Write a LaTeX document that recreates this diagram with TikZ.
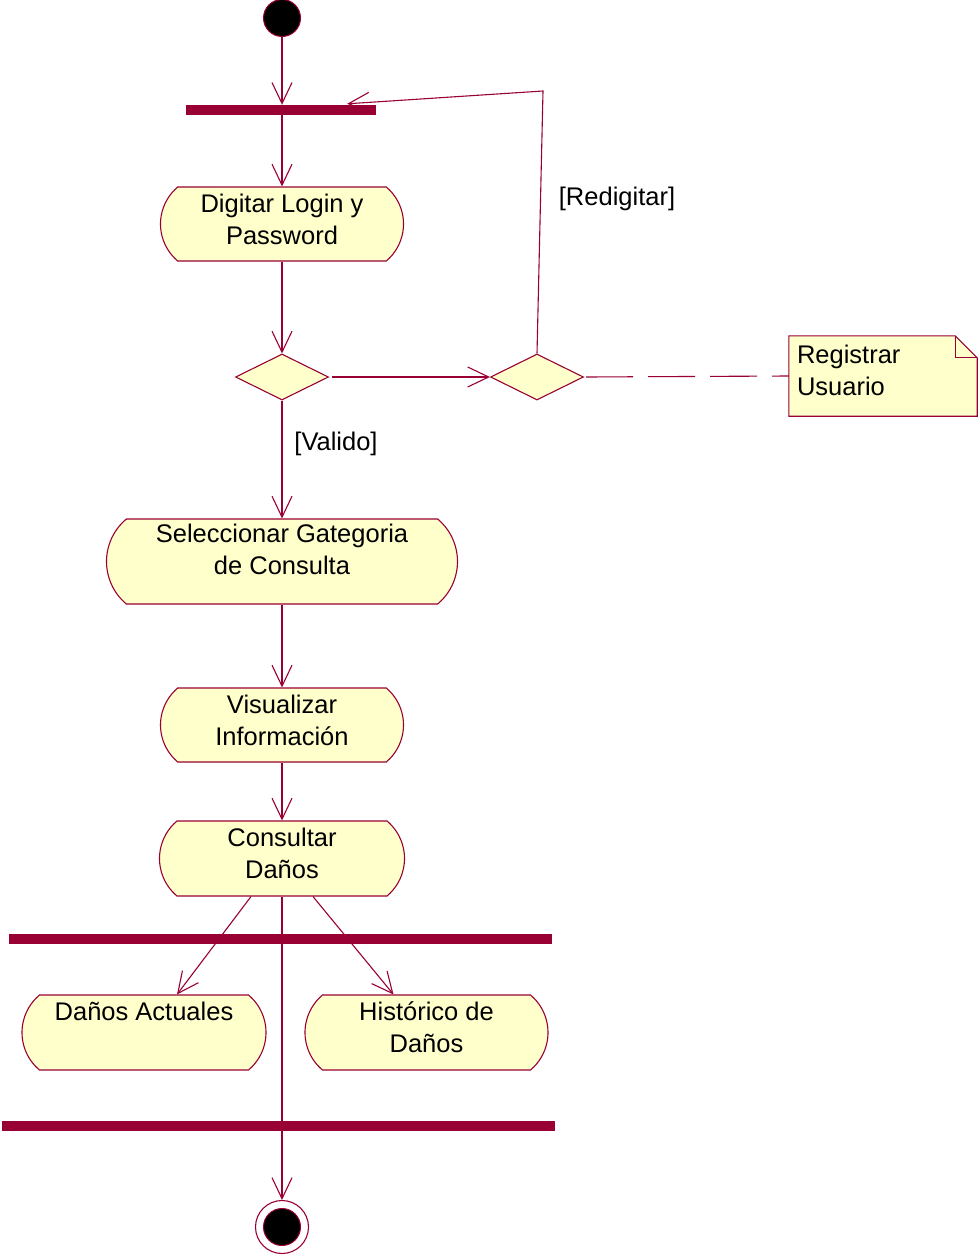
\documentclass[tikz,border=0pt]{standalone}
\usepackage{fontspec}
\setmainfont{Liberation Sans}
\usetikzlibrary{arrows.meta,shapes.misc,shapes.geometric,calc}
\definecolor{umlline}{HTML}{990033}
\definecolor{umlfill}{HTML}{FFFFCC}
\begin{document}
\begin{tikzpicture}[x=1pt,y=-1pt,
  every node/.style={font=\fontsize{25.5}{32}\selectfont},
  plain/.style={draw=umlline, line width=1.1pt},
  flow/.style={plain, -{Straight Barb[length=21pt,width=20pt]}},
  activity/.style={rounded rectangle, rounded rectangle arc length=100,
    draw=umlline, fill=umlfill, line width=1.1pt, inner sep=0pt, align=center,
    text depth=10pt},
  syncbar/.style={rectangle, fill=umlline, inner sep=0pt, minimum height=10pt},
  decision/.style={diamond, aspect=2, draw=umlline, fill=umlfill, line width=1.1pt,
    inner sep=0pt, minimum width=93pt, minimum height=46pt},
  guard/.style={inner sep=0pt}
]
\useasboundingbox (0,0) rectangle (978,1255);

% initial state and first synchronisation bar
\node[circle, draw=umlline, fill=black, line width=1pt, minimum size=37pt, inner sep=0pt] (start) at (282,18) {};
\node[syncbar, minimum width=190pt] (bar1) at (281,110) {};

% activities of the main column
\node[activity, minimum width=243pt, minimum height=74pt] (login) at (282,224) {Digitar Login y\\Password};
\node[decision] (d1) at (282,377) {};
\node[decision] (d2) at (537,377) {};
\node[activity, minimum width=351pt, minimum height=85pt, text depth=24pt] (sel) at (282,561.5) {Seleccionar Gategoria\\de Consulta};
\node[activity, minimum width=243pt, minimum height=74pt] (vis) at (282,725) {Visualizar\\Información};
\node[activity, minimum width=245pt, minimum height=75pt] (cons) at (282,858.5) {Consultar\\Daños};

% fork / join
\node[syncbar, minimum width=543pt] (bar2) at (280.5,939) {};
\node[activity, minimum width=244pt, minimum height=75pt] (act1) at (144,1032.5) {Daños Actuales\\\mbox{}};
\node[activity, minimum width=243pt, minimum height=75pt] (hist) at (426.5,1032.5) {Histórico de\\Daños};
\node[syncbar, minimum width=553pt] (bar3) at (278.5,1126) {};

% final state
\node[circle, draw=umlline, fill=white, line width=1.1pt, minimum size=53pt, inner sep=0pt] (stop) at (282,1227) {};
\node[circle, draw=umlline, fill=black, line width=1pt, minimum size=37pt, inner sep=0pt] (stopdot) at (282,1227) {};

% note
\node[rectangle, minimum width=188pt, minimum height=80pt, inner sep=0pt] (note) at (883,376) {};
\draw[plain, fill=umlfill] (note.north west) -- ($(note.north east)+(-22,0)$) -- ($(note.north east)+(0,22)$)
  -- (note.south east) -- (note.south west) -- cycle;
\draw[plain] ($(note.north east)+(-22,0)$) -- ($(note.north east)+(-22,22)$) -- ($(note.north east)+(0,22)$);
\node[anchor=north west, align=left, inner sep=0pt] (notetext) at ($(note.north west)+(8,9)$) {Registrar\\Usuario};

% guard labels
\node[guard] (redig) at (617,199) {[Redigitar]};
\node[guard] (valido) at (336,444) {[Valido]};

% transitions
\coordinate (loopcorner) at (543,91);
\draw[flow] (start.south) -- (start.south |- bar1.north);
\draw[flow] (login.north |- bar1.south) -- (login.north);
\draw[flow] (login.south) -- (d1.north);
\draw[flow] ($(d1.east)+(3,0)$) -- (d2.west);
\draw[flow] (d2.north) -- (loopcorner) -- ($(bar1.north east)+(-29,-1)$);
\draw[plain, dash pattern=on 47pt off 15pt] ($(d2.east)+(2,0)$) -- (note.west);
\draw[flow] (d1.south) -- (sel.north);
\draw[flow] (sel.south) -- (vis.north);
\draw[flow] (vis.south) -- (cons.north);
\draw[flow] ($(cons.south)+(-31,0)$) -- ($(act1.north)+(33,0)$);
\draw[flow] ($(cons.south)+(31,0)$) -- ($(hist.north)+(-33,0)$);
\draw[flow] (cons.south) -- (stop.north);
\end{tikzpicture}
\end{document}
